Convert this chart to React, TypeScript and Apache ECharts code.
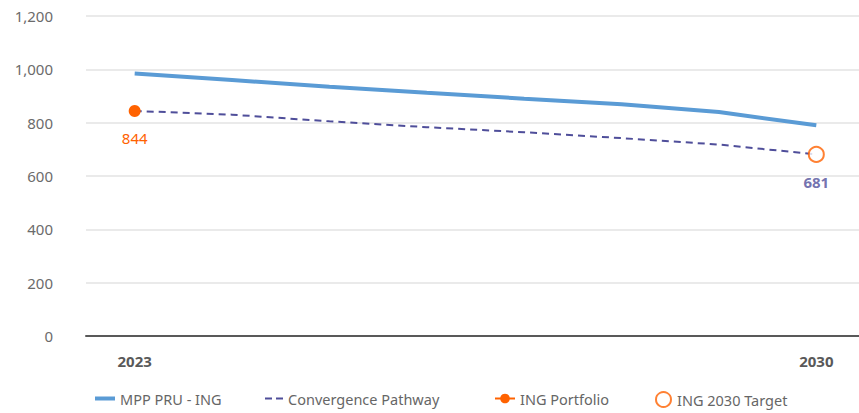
import React, { useEffect, useRef } from "react";
import * as echarts from "echarts";

// Years on the horizontal axis
const years = ["2023", "2024", "2025", "2026", "2027", "2028", "2029", "2030"];
// Market-wide PRU pathway for ING
const mppPruIng = [984, 960, 935, 912, 890, 869, 840, 790];
// Convergence pathway from current portfolio to target
const convergencePathway = [844, 830, 805, 783, 764, 742, 718, 681];
// Current portfolio value (2023)
const ingPortfolio = [844, null, null, null, null, null, null, null];
// 2030 target value
const ing2030Target = [null, null, null, null, null, null, null, 681];

const FONT = "'Noto Sans', 'Open Sans', sans-serif";
const BLUE = "#5A9BD5";
const PURPLE = "#4F4E9A";
const ORANGE = "#FF6200";

export default function App() {
  const ref = useRef<HTMLDivElement>(null);

  useEffect(() => {
    if (!ref.current) return;
    const chart = echarts.init(ref.current, null, { renderer: "svg" });
    const legendText = (padLeft: number) => ({
      color: "#666666",
      fontSize: 14.5,
      fontFamily: FONT,
      padding: [0, 0, 0, padLeft],
    });
    const legendTop = 386;
    chart.setOption({
      animation: false,
      textStyle: { fontFamily: FONT },
      grid: { left: 86, width: 779, top: 16, bottom: 77, outerBoundsMode: "none" },
      legend: [
        {
          data: [{ name: "MPP PRU - ING", icon: "rect" }],
          left: 90,
          top: legendTop,
          itemWidth: 20,
          itemHeight: 4,
          textStyle: legendText(0),
        },
        {
          data: [
            {
              name: "Convergence Pathway",
              icon: "path://M0,0H7V2H0Z M11,0H18V2H11Z",
              itemStyle: { color: PURPLE, borderWidth: 0 },
            },
          ],
          left: 260,
          top: legendTop,
          itemWidth: 18,
          itemHeight: 2,
          itemStyle: { borderWidth: 0 },
          lineStyle: { width: 0 },
          textStyle: legendText(0),
        },
        {
          data: ["ING Portfolio"],
          left: 489,
          top: legendTop,
          itemWidth: 20,
          itemHeight: 12,
          textStyle: legendText(0),
        },
        {
          data: ["ING 2030 Target"],
          left: 650,
          top: legendTop,
          itemWidth: 15,
          itemHeight: 15,
          itemStyle: { borderWidth: 2 },
          textStyle: legendText(1),
        },
      ],
      xAxis: {
        type: "category",
        data: years,
        boundaryGap: true,
        axisLine: { lineStyle: { color: "#595959", width: 2 } },
        axisTick: { show: false },
        axisLabel: {
          interval: (i: number) => i === 0 || i === years.length - 1,
          color: "#595959",
          fontSize: 15,
          fontWeight: "bold",
          margin: 17,
          fontFamily: FONT,
        },
      },
      yAxis: {
        type: "value",
        min: 0,
        max: 1200,
        interval: 200,
        axisLine: { show: false },
        axisTick: { show: false },
        axisLabel: {
          color: "#6B6B6B",
          fontSize: 15,
          margin: 33,
          fontFamily: FONT,
          formatter: (v: number) => v.toLocaleString("en-US"),
        },
        splitLine: { lineStyle: { color: "#E3E3E3", width: 1.5 } },
      },
      series: [
        {
          name: "MPP PRU - ING",
          type: "line",
          data: mppPruIng,
          symbol: "none",
          lineStyle: { color: BLUE, width: 4 },
          itemStyle: { color: BLUE },
          z: 2,
        },
        {
          name: "Convergence Pathway",
          type: "line",
          data: convergencePathway,
          symbol: "none",
          lineStyle: { color: PURPLE, width: 2, type: [7, 5] },
          itemStyle: { color: PURPLE },
          z: 2,
        },
        {
          name: "ING Portfolio",
          type: "line",
          data: ingPortfolio,
          symbol: "circle",
          symbolSize: 12,
          showSymbol: true,
          lineStyle: { color: ORANGE, width: 3 },
          itemStyle: { color: ORANGE },
          label: {
            show: true,
            position: "bottom",
            distance: 14,
            color: ORANGE,
            fontSize: 15,
            fontFamily: FONT,
          },
          z: 3,
        },
        {
          name: "ING 2030 Target",
          type: "scatter",
          data: ing2030Target,
          symbol: "circle",
          symbolSize: 15,
          itemStyle: { color: "#ffffff", borderColor: ORANGE, borderWidth: 2 },
          label: {
            show: true,
            position: "bottom",
            distance: 12,
            color: PURPLE,
            fontSize: 15,
            fontWeight: "bold",
            fontFamily: FONT,
          },
          z: 3,
        },
      ],
    });
    return () => chart.dispose();
  }, []);

  return <div ref={ref} style={{ width: 859, height: 413, position: "absolute", left: 0, top: 0 }} />;
}
